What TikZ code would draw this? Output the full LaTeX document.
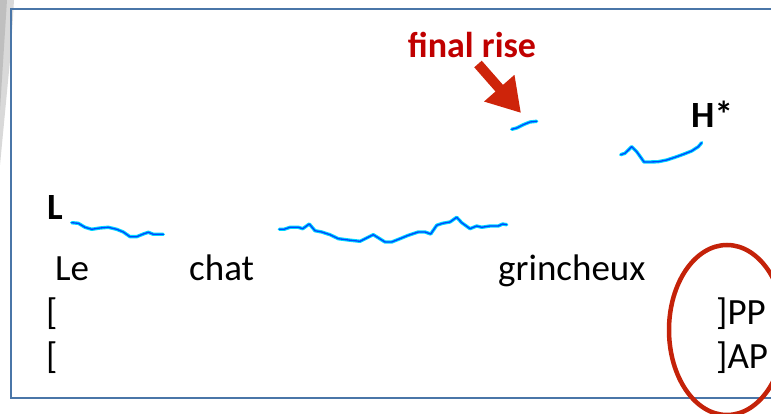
\documentclass[tikz,border=0pt]{standalone}
\usepackage{fontspec}
\setmainfont{Carlito}
\usetikzlibrary{arrows.meta}

\definecolor{framecol}{RGB}{74,118,168}
\definecolor{risered}{RGB}{192,0,0}
\definecolor{arrowred}{RGB}{206,36,10}
\definecolor{pitchout}{RGB}{0,215,255}
\definecolor{pitchin}{RGB}{0,70,255}

\tikzset{
    word/.style={anchor=base west, inner sep=0pt, font=\fontsize{37}{40}\selectfont},
    tone/.style={anchor=base west, inner sep=0pt, font=\fontsize{37}{40}\selectfont\bfseries},
    pitch/.style={draw=pitchout, line width=3.4pt, line join=round, line cap=round,
        postaction={draw=pitchin, line width=1.3pt}},
}

\begin{document}
\begin{tikzpicture}[x=1pt, y=-1pt]
        \useasboundingbox (0,0) rectangle (771,414);
        \fill[gray!30] (0,0) -- (14,0) -- (11,50) -- (0,165) -- cycle;
        \fill[gray!50] (0,0) -- (7,0) -- (0,110) -- cycle;
        \draw[framecol, line width=2.7pt] (11,9) rectangle (800,398);

        \node[tone] (lowL) at (47,219) {L};
        \node[tone] (highH) at (691,128) {H*};
        \node[anchor=base, inner sep=0pt, text=risered, font=\fontsize{36}{38}\selectfont\bfseries] (rise) at (472,57.5) {final rise};

        \node[word] (le) at (55,280) {Le};
        \node[word] (chat) at (189,280) {chat};
        \node[word] (grin) at (498,280) {grincheux};
        \node[word] (openPP) at (46,324) {[};
        \node[word] (closePP) at (716,324) {]PP};
        \node[word] (openAP) at (46,368) {[};
        \node[word] (closeAP) at (716,368) {]AP};

        \draw[pitch] plot coordinates {(71.7,222.7) (78.3,223.3) (85,227.3) (91.7,229.3) (100,228) (108.3,227.3) (116.7,229.3) (123.3,232) (130,236.7) (136.7,236.7) (143.3,234) (148.3,232.3) (153.3,234.3) (163.3,234.3)};
        \draw[pitch] plot coordinates {(279.3,229.3) (284,229.3) (290,227.3) (298.3,227.3) (302.7,228.7) (309.3,224) (315,230.7) (321.7,232) (330,234.7) (338.3,238.7) (348.3,240) (360,241.3) (373.3,234.7) (385,242) (391.7,242) (400,238.7) (408.3,235.3) (418.3,232) (425,232) (430.7,234) (436.7,225.3) (442.7,223.3) (450,222) (456.7,217.3) (461.7,222.7) (470,228.7) (476.7,226) (481.7,227.3) (490,226) (498.3,226) (502.7,224) (506.7,224.7)};
        \draw[pitch] plot coordinates {(511.7,129.3) (516.7,128) (523.3,124.7) (530,122) (536.7,121.3)};
        \draw[pitch] plot coordinates {(620.7,154.7) (625,153.3) (631.7,146.7) (636.7,151.7) (640.7,157.3) (644,162) (650,162) (658.3,161.7) (666.7,160) (675,157.3) (683.3,154.3) (691.7,151) (698.3,146.7) (701.7,142.7)};

        \coordinate (risetail) at (478,64);
        \coordinate (risetip) at (521,113);
        \draw[arrowred, line width=10pt, -{Triangle[length=33pt, width=38pt]}] (risetail) -- (risetip);

        \draw[arrowred!95!black, line width=4.5pt] (727,330) ellipse [x radius=58, y radius=85];
    \end{tikzpicture}
\end{document}
